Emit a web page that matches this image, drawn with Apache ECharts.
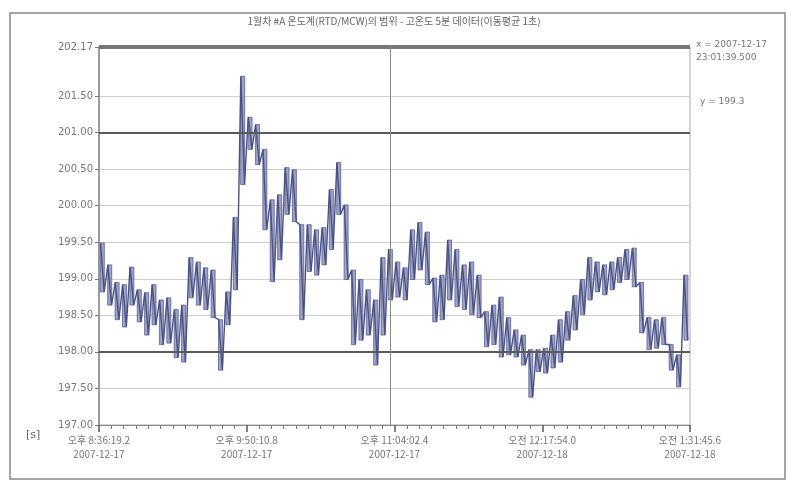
<!DOCTYPE html>
<html>
<head>
<meta charset="utf-8">
<script src="https://cdn.jsdelivr.net/npm/echarts@6/dist/echarts.min.js"></script>
<style>
  html, body { margin: 0; padding: 0; background: #fff; }
  #trend_chart { width: 788px; height: 484px; }
</style>
</head>
<body>
<div id="trend_chart"></div>
<script>
// per-sample high/low readings (one pair per sampling bucket)
var highs = [199.49, 199.19, 198.95, 198.92, 199.16, 198.85, 198.81, 198.92, 198.71, 198.74,
             198.58, 198.64, 199.29, 199.23, 199.15, 199.12, 198.44, 198.82, 199.84, 201.77,
             201.21, 201.11, 200.77, 200.08, 200.15, 200.52, 200.49, 199.74, 199.74, 199.67,
             199.70, 200.22, 200.59, 200.01, 199.12, 198.99, 198.85, 198.71, 199.29, 199.40,
             199.23, 199.15, 199.67, 199.77, 199.64, 199.01, 199.05, 199.53, 199.40, 199.19,
             199.23, 199.05, 198.55, 198.64, 198.75, 198.47, 198.30, 198.23, 198.03, 198.03,
             198.05, 198.23, 198.44, 198.55, 198.77, 198.99, 199.29, 199.23, 199.19, 199.23,
             199.29, 199.40, 199.42, 198.95, 198.47, 198.44, 198.47, 198.10, 197.96, 199.05];
var lows = [198.82, 198.64, 198.44, 198.34, 198.64, 198.41, 198.23, 198.37, 198.10, 198.12,
            197.92, 197.86, 198.74, 198.64, 198.58, 198.47, 197.75, 198.37, 198.85, 200.29,
            200.77, 200.56, 199.67, 198.96, 199.26, 199.88, 199.78, 198.44, 199.10, 199.05,
            199.19, 199.40, 199.88, 198.99, 198.10, 198.16, 198.23, 197.82, 198.23, 198.71,
            198.75, 198.71, 198.99, 199.12, 198.92, 198.41, 198.44, 198.71, 198.62, 198.58,
            198.51, 198.47, 198.07, 198.10, 197.93, 197.96, 197.93, 197.82, 197.38, 197.73,
            197.71, 197.78, 197.86, 198.16, 198.30, 198.51, 198.71, 198.82, 198.78, 198.85,
            198.95, 198.99, 198.89, 198.26, 198.03, 198.05, 198.10, 197.75, 197.52, 198.16];

var yTicks = [197.00, 197.50, 198.00, 198.50, 199.00, 199.50, 200.00, 200.50, 201.00, 201.50, 202.17];
var upperLimit = 201.00;
var lowerLimit = 198.00;
var topLimit = 202.17;
var cursorX = 39.4;

var timeLabels = ['오후 8:36:19.2', '오후 9:50:10.8', '오후 11:04:02.4', '오전 12:17:54.0', '오전 1:31:45.6'];
var dateLabels = ['2007-12-17', '2007-12-17', '2007-12-17', '2007-12-18', '2007-12-18'];

var titleText = '1월차 #A 온도계(RTD/MCW)의 범위 - 고온도 5분 데이터(이동평균 1초)';

var lineData = [];
var bandData = [];
for (var j = 0; j < highs.length; j++) {
    lineData.push([j + 0.2, highs[j]]);
    lineData.push([j + 0.7, lows[j]]);
    bandData.push([j + 0.45, lows[j], highs[j]]);
}

var chart = echarts.init(document.getElementById('trend_chart'));
var font = 'DejaVu Sans, Noto Sans CJK KR';

function renderBand(params, api) {
    var lo = api.coord([api.value(0), api.value(1)]);
    var hi = api.coord([api.value(0), api.value(2)]);
    var w = api.size([1, 0])[0] * 0.55;
    return {
        type: 'rect',
        shape: { x: lo[0] - w / 2, y: hi[1], width: w, height: lo[1] - hi[1] },
        style: { fill: '#8b92c4', stroke: '#4b5282', lineWidth: 0.8, opacity: 0.85 }
    };
}

var option = {
    backgroundColor: '#fff',
    animation: false,
    textStyle: { fontFamily: font },
    grid: {
        left: 99, right: 98, top: 47, bottom: 59,
        show: true, borderColor: '#aaa', borderWidth: 1
    },
    xAxis: {
        type: 'value',
        min: 0,
        max: 80,
        interval: 20,
        axisLine: { show: true, lineStyle: { color: '#888', width: 1 } },
        axisTick: { show: true, length: 7, lineStyle: { color: '#555', width: 1.5 } },
        minorTick: { show: true, splitNumber: 12, length: 4, lineStyle: { color: '#777' } },
        splitLine: { show: false },
        axisLabel: {
            color: '#777',
            fontSize: 10,
            lineHeight: 14,
            margin: 8,
            fontFamily: 'Noto Sans CJK KR',
            formatter: function (v) {
                var i = Math.round(v / 20);
                return timeLabels[i] + '\n' + dateLabels[i];
            }
        }
    },
    yAxis: {
        type: 'value',
        min: 197,
        max: topLimit,
        axisLine: { show: true, lineStyle: { color: '#888', width: 1.5 } },
        axisTick: { show: true, length: 4, customValues: yTicks, lineStyle: { color: '#777' } },
        splitLine: { show: true, lineStyle: { color: '#cfcfcf', width: 1 } },
        axisLabel: {
            color: '#777',
            fontSize: 10,
            margin: 6,
            customValues: yTicks,
            formatter: function (v) { return v.toFixed(2); }
        }
    },
    series: [
        {
            type: 'custom',
            renderItem: renderBand,
            data: bandData,
            encode: { x: 0, y: [1, 2] },
            z: 2
        },
        {
            type: 'line',
            data: lineData,
            symbol: 'none',
            z: 3,
            lineStyle: { color: '#4a5280', width: 1.4 },
            markLine: {
                silent: true,
                symbol: 'none',
                label: { show: false },
                data: [
                    { yAxis: upperLimit, lineStyle: { color: '#5a5a5a', width: 2, type: 'solid' } },
                    { yAxis: lowerLimit, lineStyle: { color: '#5a5a5a', width: 2, type: 'solid' } },
                    { yAxis: topLimit, lineStyle: { color: '#777', width: 4, type: 'solid' } },
                    { xAxis: cursorX, lineStyle: { color: '#888', width: 1, type: 'solid' } }
                ]
            }
        }
    ],
    graphic: [
        {
            type: 'rect',
            shape: { x: 10, y: 13, width: 775, height: 466 },
            style: { fill: 'none', stroke: '#888', lineWidth: 1.5 }
        },
        {
            type: 'text', left: 'center', top: 16,
            style: { text: titleText, fill: '#666', fontSize: 10, fontFamily: 'Noto Sans CJK KR' }
        },
        {
            type: 'text', left: 696, top: 38,
            style: { text: 'x = 2007-12-17\n23:01:39.500', fill: '#777', fontSize: 9, lineHeight: 13, fontFamily: font }
        },
        {
            type: 'text', left: 700, top: 97,
            style: { text: 'y = 199.3', fill: '#777', fontSize: 9, fontFamily: font }
        },
        {
            type: 'text', left: 26, top: 430,
            style: { text: '[s]', fill: '#666', fontSize: 11, fontFamily: font }
        }
    ]
};

chart.setOption(option);
</script>
</body>
</html>
